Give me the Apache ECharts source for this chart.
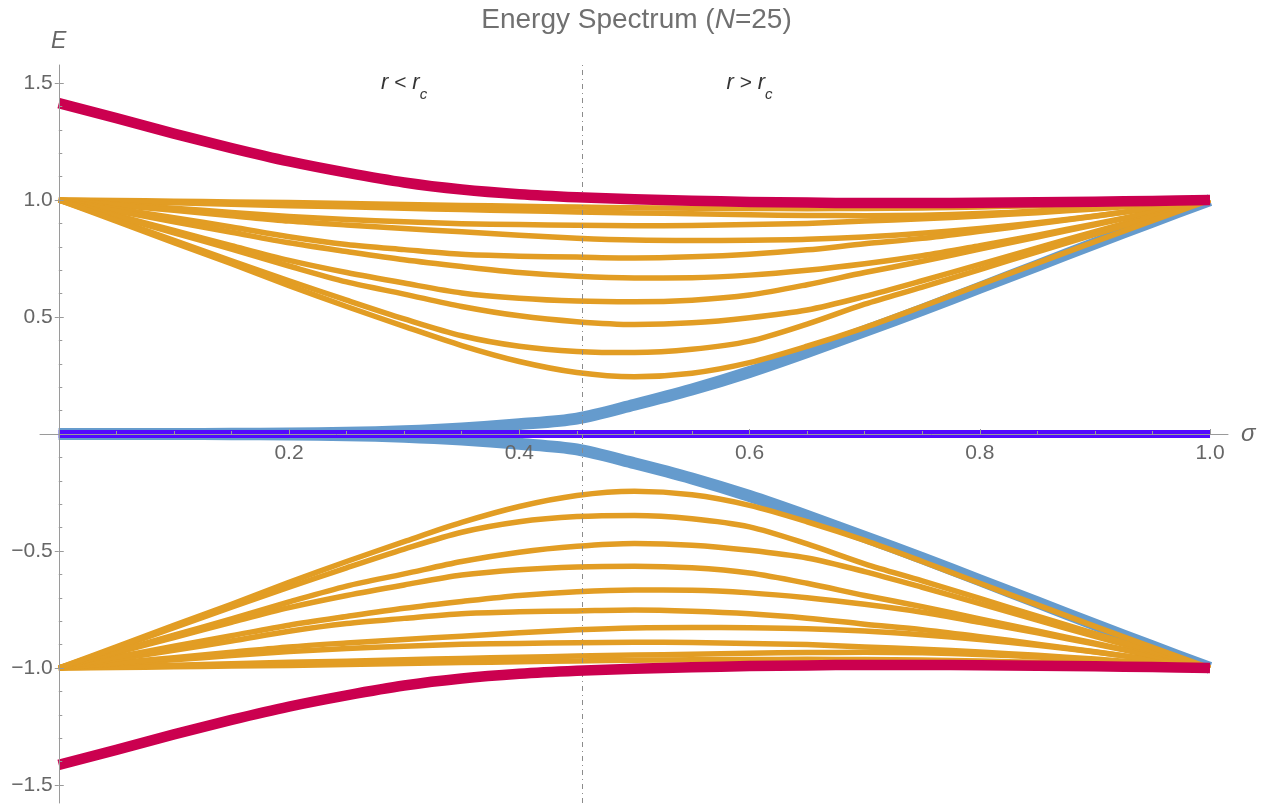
<!DOCTYPE html>
<html><head><meta charset="utf-8">
<script src="https://cdn.jsdelivr.net/npm/echarts@6/dist/echarts.min.js"></script>
<style>html,body{margin:0;padding:0;background:#fff}#c{width:1273px;height:807px}</style>
</head><body><div id="c"></div>
<script>
// ---- data ----
const sigma = [0,0.05,0.1,0.15,0.2,0.25,0.3,0.35,0.4,0.45,0.5,0.55,0.6,0.65,0.7,0.75,0.8,0.85,0.9,0.95,1];
// positive bulk levels (orange); the spectrum is symmetric E -> -E
const o1  = [1,0.998,0.995,0.992,0.989,0.985,0.981,0.977,0.973,0.970,0.967,0.965,0.964,0.963,0.964,0.966,0.970,0.976,0.983,0.991,1];
const o2  = [1,0.994,0.988,0.982,0.976,0.971,0.965,0.959,0.954,0.949,0.945,0.941,0.937,0.934,0.933,0.935,0.942,0.953,0.966,0.982,1];
const o3  = [1,0.982,0.965,0.947,0.930,0.917,0.907,0.899,0.895,0.892,0.890,0.891,0.895,0.900,0.910,0.920,0.932,0.946,0.962,0.980,1];
const o4  = [1,0.978,0.956,0.933,0.910,0.893,0.878,0.864,0.849,0.837,0.829,0.827,0.828,0.832,0.842,0.858,0.878,0.903,0.932,0.965,1];
const o5  = [1,0.962,0.924,0.885,0.843,0.810,0.788,0.768,0.760,0.756,0.752,0.757,0.768,0.787,0.813,0.836,0.866,0.898,0.931,0.965,1];
const o6  = [1,0.953,0.907,0.862,0.817,0.780,0.745,0.716,0.690,0.674,0.667,0.668,0.679,0.700,0.728,0.762,0.805,0.850,0.898,0.948,1];
const o7  = [1,0.935,0.870,0.805,0.742,0.690,0.645,0.603,0.580,0.568,0.565,0.572,0.594,0.638,0.690,0.738,0.790,0.842,0.894,0.947,1];
const o8  = [1,0.930,0.860,0.790,0.718,0.650,0.598,0.545,0.505,0.480,0.468,0.475,0.497,0.530,0.588,0.655,0.725,0.795,0.865,0.933,1];
const o9  = [1,0.915,0.828,0.740,0.655,0.572,0.492,0.420,0.375,0.353,0.348,0.362,0.397,0.470,0.555,0.628,0.703,0.778,0.853,0.927,1];
const o10 = [1,0.910,0.818,0.728,0.634,0.545,0.460,0.378,0.310,0.263,0.245,0.260,0.305,0.375,0.455,0.545,0.638,0.730,0.822,0.912,1];
const edgeMode = [0,0,0,0.001,0.002,0.005,0.012,0.024,0.042,0.066,0.125,0.19,0.265,0.35,0.44,0.53,0.625,0.72,0.815,0.908,1];
const topLevel = [1.414,1.350,1.284,1.222,1.165,1.117,1.075,1.045,1.025,1.012,1.003,0.997,0.992,0.989,0.987,0.987,0.988,0.990,0.993,0.996,1.0];
const zeroMode = [0,0,0,0,0,0,0,0,0,0,0,0,0,0,0,0,0,0,0,0,0];
const rc = 0.455;
const notes = [[0.3, 1.5, 'lt'], [0.6, 1.5, 'gt']];
const xMajor = [0.2,0.4,0.6,0.8,1.0];
const xMinor = [0.05,0.1,0.15,0.25,0.3,0.35,0.45,0.5,0.55,0.65,0.7,0.75,0.85,0.9,0.95];
const yMajor = [-1.5,-1.0,-0.5,0.5,1.0,1.5];
const yMinor = [-1.4,-1.3,-1.2,-1.1,-0.9,-0.8,-0.7,-0.6,-0.4,-0.3,-0.2,-0.1,0.1,0.2,0.3,0.4,0.6,0.7,0.8,0.9,1.1,1.2,1.3,1.4];

// ---- chart ----
const FONT = 'Liberation Sans';
const AX = '#9a9a9a', LAB = '#666666';
const W = 1273, H = 807;
const G = {left:40, right:45, top:65, bottom:4};
const xmin = -0.0163, xmax = 1.0156, ymin = -1.577, ymax = 1.577;
// place the axes through the origin (labels stay with the axis line)
const gw = W - G.left - G.right, gh = H - G.top - G.bottom;
const yAxisOffset = -(0 - xmin) / (xmax - xmin) * gw;
const xAxisOffset = -(0 - ymin) / (ymax - ymin) * gh;

const pts = (arr, sign) => sigma.map((s, i) => [s, sign * arr[i]]);
const series = [];
function line(arr, sign, color, width, z) {
  series.push({type:'line', data: pts(arr, sign), showSymbol:false, smooth:0.3,
    xAxisIndex:0, yAxisIndex:0, z:z, silent:true,
    lineStyle:{color:color, width:width, cap:'butt', join:'round'}});
}
series.push({type:'line', data:[], z:1, xAxisIndex:0, yAxisIndex:0,
  markLine:{symbol:'none', silent:true, precision:4, label:{show:false},
    lineStyle:{color:'#8c8c8c', width:1, type:[5,4,1,4]}, data:[{xAxis: rc}]}});
line(edgeMode, 1, '#659bcd', 12, 2);
line(edgeMode, -1, '#659bcd', 12, 2);
[o1,o2,o3,o4,o5,o6,o7,o8,o9,o10].forEach(a => { line(a, 1, '#e29d24', 5.5, 3); line(a, -1, '#e29d24', 5.5, 3); });
line(zeroMode, 1, '#5308ff', 8, 4);
line(topLevel, 1, '#cb004f', 10.5, 5);
line(topLevel, -1, '#cb004f', 10.5, 5);
series.push({type:'scatter', data: notes, symbolSize:0, z:6, xAxisIndex:0, yAxisIndex:0, silent:true,
  label:{show:true, position:'inside',
    formatter: p => p.value[2] === 'lt' ? '{i|r}{o| < }{i|r}{s|c}' : '{i|r}{o| > }{i|r}{s|c}',
    rich:{
      i:{fontFamily:FONT, fontStyle:'italic', fontSize:22, color:'#000', lineHeight:26, verticalAlign:'middle'},
      o:{fontFamily:FONT, fontSize:21, color:'#000', lineHeight:26, verticalAlign:'middle'},
      s:{fontFamily:FONT, fontStyle:'italic', fontSize:15, color:'#000', lineHeight:15, verticalAlign:'bottom', padding:[0,0,-6,0]}
    }}});

const fmt = v => (v < 0 ? '\u2212' : '') + Math.abs(v).toFixed(1);
const tickAxisY = (values, len, inside) => ({type:'value', min:ymin, max:ymax, z:8, position:'left', offset:yAxisOffset,
  splitLine:{show:false}, axisLine:{onZero:false, show:false},
  axisTick:{show:true, inside:inside, length:len, customValues:values, lineStyle:{color:AX}}, axisLabel:{show:false}});
const option = {
  animation:false, backgroundColor:'#ffffff',
  title:{text:'{a|Energy Spectrum (}{i|N}{a|=25)}', left:'center', top:1,
    textStyle:{fontWeight:'normal', rich:{
      a:{fontFamily:FONT, fontSize:28, fontWeight:'normal', color:'#707070'},
      i:{fontFamily:FONT, fontSize:28, fontWeight:'normal', color:'#707070', fontStyle:'italic'}}}},
  grid:{left:G.left, right:G.right, top:G.top, bottom:G.bottom, containLabel:false, outerBoundsMode:'none'},
  xAxis:[
    {type:'value', min:xmin, max:xmax, z:8, position:'bottom', offset:xAxisOffset, splitLine:{show:false},
     axisLine:{onZero:false, lineStyle:{color:AX, width:1}},
     axisTick:{show:true, inside:true, length:5, customValues:xMajor, lineStyle:{color:AX}},
     axisLabel:{customValues:xMajor, formatter:fmt, fontFamily:FONT, fontSize:21, color:LAB, margin:9},
     name:'σ', nameLocation:'end', nameGap:13,
     nameTextStyle:{fontFamily:FONT, fontStyle:'italic', fontSize:24, color:LAB}},
    {type:'value', min:xmin, max:xmax, z:8, position:'bottom', offset:xAxisOffset, splitLine:{show:false},
     axisLine:{onZero:false, show:false},
     axisTick:{show:true, inside:true, length:3, customValues:xMinor, lineStyle:{color:AX}},
     axisLabel:{show:false}}
  ],
  yAxis:[
    {type:'value', min:ymin, max:ymax, z:8, position:'left', offset:yAxisOffset, splitLine:{show:false},
     axisLine:{onZero:false, lineStyle:{color:AX, width:1}},
     axisTick:{show:true, inside:true, length:5, customValues:yMajor, lineStyle:{color:AX}},
     axisLabel:{customValues:yMajor, formatter:fmt, fontFamily:FONT, fontSize:21, color:LAB, margin:6},
     name:'E', nameLocation:'end', nameGap:12,
     nameTextStyle:{fontFamily:FONT, fontStyle:'italic', fontSize:23, color:LAB, align:'center'}},
    tickAxisY(yMinor, 3.5, true),
    tickAxisY(yMajor, 4, false)
  ],
  series: series
};
const chart = echarts.init(document.getElementById('c'), null, {renderer:'canvas'});
chart.setOption(option);
</script></body></html>
